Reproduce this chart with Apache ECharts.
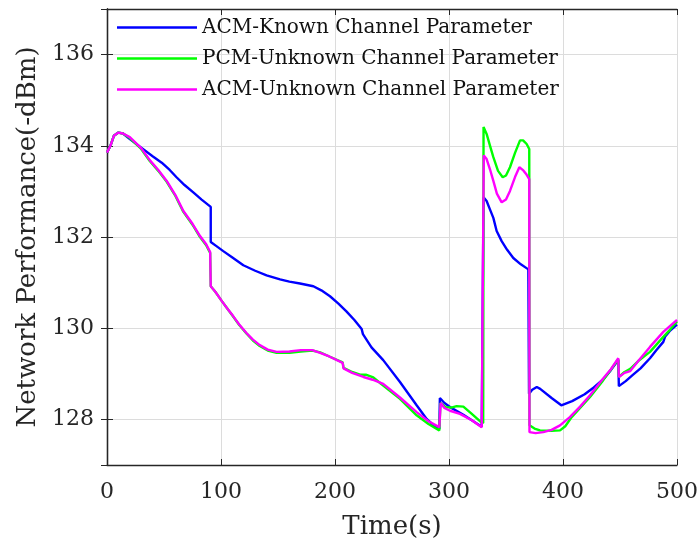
<!DOCTYPE html>
<html>
<head>
<meta charset="utf-8">
<script src="https://cdn.jsdelivr.net/npm/echarts@6/dist/echarts.min.js"></script>
<style>
  html, body { margin: 0; padding: 0; background: #fff; }
  #main { width: 699px; height: 543px; }
</style>
</head>
<body>
<div id="main"></div>
<script>
// series names, as in the legend
const seriesNames = ['ACM-Known Channel Parameter', 'PCM-Unknown Channel Parameter', 'ACM-Unknown Channel Parameter'];
const xTicks = [0, 100, 200, 300, 400, 500];

// [time (s), performance (-dBm)]
const acmKnown = [
  [0, 133.85], [3, 134.0], [6, 134.22], [10, 134.29], [14, 134.27], [20, 134.15], [30, 133.96],
  [40, 133.77], [48, 133.63], [55, 133.47], [61, 133.31], [68, 133.14], [75.7, 132.98], [83, 132.82],
  [91, 132.66], [91, 131.89], [96, 131.8], [102, 131.69], [110, 131.55], [119.6, 131.38], [130, 131.26],
  [140, 131.16], [151.8, 131.07], [160, 131.02], [169.3, 130.98], [181, 130.92], [188, 130.83],
  [195.6, 130.7], [203, 130.54], [210, 130.37], [217, 130.18], [223.4, 129.98], [224.5, 129.87],
  [232, 129.58], [242.3, 129.3], [257, 128.82], [271.6, 128.31], [280.4, 128.01], [286, 127.88],
  [291.5, 127.79], [292, 128.47], [296, 128.36], [300.9, 128.27], [312.6, 128.1], [320, 127.98],
  [328.7, 127.84], [330, 127.84], [330.3, 132.87], [333, 132.79], [336, 132.6], [338.9, 132.42],
  [341.8, 132.13], [346.2, 131.91], [351, 131.72], [356.4, 131.54], [363, 131.4], [369.6, 131.29],
  [370.2, 128.56], [373, 128.65], [377, 128.71], [380, 128.67], [390, 128.47], [398.5, 128.31],
  [408, 128.4], [419, 128.55], [427, 128.7], [435.4, 128.88], [442, 129.08], [448.5, 129.3],
  [449, 128.73], [455, 128.84], [461, 128.97], [462, 128.93], [468, 129.12], [476.3, 129.34],
  [482, 129.52], [488, 129.7], [489.5, 129.81], [494, 129.95], [500, 130.08]
];

const pcmUnknown = [
  [0, 133.85], [3, 134.0], [6, 134.22], [10, 134.29], [14, 134.27], [20, 134.17], [30, 133.93],
  [37.7, 133.66], [45, 133.45], [52.4, 133.21], [60, 132.9], [67, 132.55], [75, 132.27], [81.6, 132.0],
  [87, 131.82], [90.5, 131.65], [91, 130.92], [95, 130.8], [100.6, 130.6], [105, 130.45], [110.8, 130.25],
  [116, 130.07], [122.5, 129.88], [128, 129.73], [134, 129.61], [141, 129.51], [148.8, 129.46],
  [160, 129.46], [170, 129.49], [180, 129.51], [187, 129.47], [195, 129.38], [206.7, 129.25],
  [207.5, 129.13], [215, 129.04], [222, 128.98], [227, 128.98], [233.6, 128.92], [242, 128.75],
  [257, 128.45], [271.6, 128.09], [282, 127.9], [291.5, 127.76], [292.5, 128.36], [297, 128.27],
  [302, 128.26], [306.7, 128.29], [312.6, 128.28], [320, 128.12], [328.1, 127.94], [330, 127.92],
  [330.3, 134.41], [333, 134.26], [336, 134.0], [338.9, 133.75], [343, 133.45], [347.1, 133.31],
  [350, 133.35], [353.5, 133.53], [358, 133.85], [362.3, 134.12], [365, 134.12], [368.1, 134.04],
  [370.4, 133.93], [370.6, 127.87], [375, 127.8], [379.8, 127.76], [390, 127.75], [397.4, 127.76],
  [402, 127.85], [407.6, 128.05], [415, 128.25], [423.7, 128.49], [435, 128.85], [448.5, 129.32],
  [449, 128.93], [454, 129.04], [459, 129.11], [466, 129.28], [476.3, 129.48], [488, 129.81],
  [494, 129.97], [500, 130.15]
];

const acmUnknown = [
  [0, 133.85], [3, 134.0], [6, 134.22], [10, 134.29], [14, 134.27], [20, 134.19], [30, 133.95],
  [37.7, 133.68], [45, 133.47], [52.4, 133.23], [60, 132.92], [67, 132.57], [75, 132.29], [81.6, 132.02],
  [87, 131.84], [90.5, 131.67], [91, 130.92], [95, 130.8], [100.6, 130.6], [105, 130.45], [110.8, 130.26],
  [116, 130.08], [122.5, 129.89], [128, 129.75], [134, 129.63], [141, 129.53], [148.8, 129.48],
  [160, 129.49], [170, 129.52], [180, 129.52], [187, 129.46], [195, 129.38], [206.7, 129.24],
  [207.5, 129.12], [215, 129.02], [225, 128.93], [233, 128.87], [242.3, 128.78], [257, 128.48],
  [271.6, 128.16], [282, 127.96], [291.5, 127.83], [292.7, 128.36], [296, 128.25], [300.9, 128.19],
  [309.6, 128.12], [320, 127.98], [328.7, 127.83], [330, 127.83], [330.5, 133.79], [333, 133.71],
  [336, 133.48], [338.9, 133.23], [342, 132.95], [346.2, 132.76], [350, 132.82], [353.5, 133.01],
  [358, 133.32], [361.7, 133.53], [365.2, 133.46], [368, 133.37], [370.4, 133.27], [370.6, 127.72],
  [376, 127.7], [382.7, 127.72], [390, 127.77], [397.4, 127.87], [406, 128.05], [415, 128.28],
  [423.7, 128.53], [435.4, 128.9], [442, 129.1], [448.5, 129.34], [449, 128.93], [454, 129.02],
  [459, 129.06], [466, 129.28], [476.3, 129.59], [488, 129.92], [494, 130.05], [500, 130.18]
];

const lineColors = ['#0000ff', '#00ff00', '#ff00ff'];
const font = 'DejaVu Serif';

let myChart = echarts.init(document.getElementById('main'));
window.addEventListener('resize', function () {
  myChart.resize();
});

const boxLine = { show: true, lineStyle: { color: '#262626', width: 1.3 } };
const inTick = { show: true, inside: true, length: 6, lineStyle: { color: '#262626', width: 1 } };
const grid = { show: true, lineStyle: { color: '#dcdcdc', width: 1 } };

let option = {
  animation: false,
  backgroundColor: '#fff',
  grid: { left: 107, right: 22, top: 9, bottom: 78, outerBoundsMode: 'none' },
  legend: {
    data: seriesNames,
    orient: 'vertical',
    left: 112,
    top: 12,
    icon: 'rect',
    itemWidth: 80,
    itemHeight: 2.5,
    itemGap: 10,
    textStyle: { fontFamily: font, fontSize: 20, color: '#111', lineHeight: 21 }
  },
  xAxis: [
    {
      type: 'value', min: 0, max: 500, interval: 100,
      name: 'Time(s)', nameLocation: 'middle', nameGap: 49,
      nameTextStyle: { fontFamily: font, fontSize: 26, color: '#262626' },
      axisLine: boxLine, axisTick: inTick, splitLine: grid,
      axisLabel: { fontFamily: font, fontSize: 22, color: '#262626', margin: 16 }
    },
    {
      type: 'value', min: 0, max: 500, interval: 100, position: 'top',
      axisLine: boxLine, axisTick: inTick, splitLine: { show: false },
      axisLabel: { show: false }
    }
  ],
  yAxis: [
    {
      type: 'value', min: 127, max: 137, splitNumber: 5,
      name: 'Network Performance(-dBm)', nameLocation: 'middle', nameGap: 60,
      nameTextStyle: { fontFamily: font, fontSize: 26, color: '#262626' },
      axisLine: boxLine, axisTick: inTick, splitLine: grid,
      axisLabel: {
        fontFamily: font, fontSize: 22, color: '#262626', margin: 13,
        formatter: function (v) { return v % 2 === 0 ? v : ''; }
      }
    },
    {
      type: 'value', min: 127, max: 137, splitNumber: 5, position: 'right',
      axisLine: boxLine, axisTick: inTick, splitLine: { show: false },
      axisLabel: { show: false }
    }
  ],
  series: [acmKnown, pcmUnknown, acmUnknown].map(function (d, i) {
    return {
      name: seriesNames[i],
      type: 'line',
      data: d,
      showSymbol: false,
      symbol: 'none',
      smooth: false,
      color: lineColors[i],
      lineStyle: { color: lineColors[i], width: 2.4 }
    };
  })
};

myChart.setOption(option);
</script>
</body>
</html>
